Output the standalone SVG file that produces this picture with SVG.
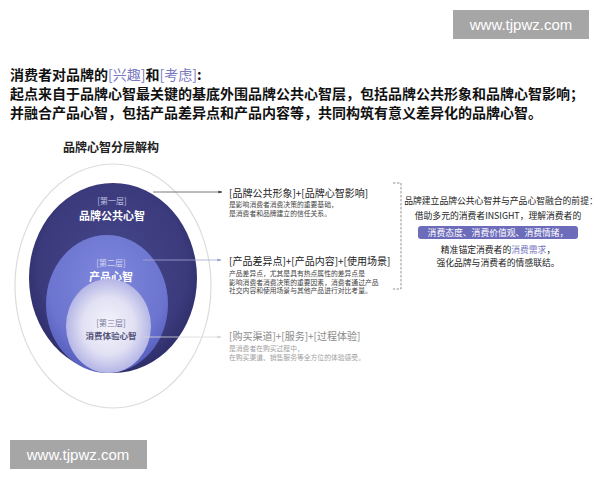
<svg xmlns="http://www.w3.org/2000/svg" width="600" height="480" viewBox="0 0 600 480">
<defs>
<radialGradient id="g1" cx="0.5" cy="0.45" r="0.55">
<stop offset="0" stop-color="#46468c"/>
<stop offset="0.8" stop-color="#3a3a7c"/>
<stop offset="1" stop-color="#2f2e6a"/>
</radialGradient>
<radialGradient id="g2" cx="0.5" cy="0.35" r="0.6">
<stop offset="0" stop-color="#8089dc"/>
<stop offset="0.8" stop-color="#6b74cf"/>
<stop offset="1" stop-color="#5c64c2"/>
</radialGradient>
<radialGradient id="g3" cx="0.5" cy="0.5" r="0.55">
<stop offset="0" stop-color="#f4f3fb"/>
<stop offset="0.55" stop-color="#e2e1f4"/>
<stop offset="1" stop-color="#a9abe2"/>
</radialGradient>
<marker id="ah1" viewBox="0 0 10 10" refX="9" refY="5" markerWidth="5" markerHeight="5" orient="auto">
<path d="M0,1 L10,5 L0,9 z" fill="#444"/>
</marker>
<marker id="ah2" viewBox="0 0 10 10" refX="9" refY="5" markerWidth="5" markerHeight="5" orient="auto">
<path d="M0,1 L10,5 L0,9 z" fill="#9a9acf"/>
</marker>
<marker id="ah3" viewBox="0 0 10 10" refX="9" refY="5" markerWidth="5" markerHeight="5" orient="auto">
<path d="M0,1 L10,5 L0,9 z" fill="#d4d4d8"/>
</marker>
</defs>
<style>
text{font-family:"Noto Sans CJK SC","Noto Sans",sans-serif}
.h{font-size:14px;font-weight:700;fill:#111}
.hp{fill:#7a78c0;font-weight:400}
.lay{font-size:8px;text-anchor:middle}
.t{font-size:10px;fill:#222}
.s{font-size:6.8px;fill:#444}
.r{font-size:8.8px;fill:#222;text-anchor:middle}
.wm{font-family:"Liberation Sans",Arial,sans-serif;font-size:15px;fill:#fff;text-anchor:middle}
</style>
<rect width="600" height="480" fill="#fff"/>

<g id="wm-top"><rect x="453" y="10" width="136" height="29" fill="#a6a6a6"/><text class="wm" x="521" y="30">www.tjpwz.com</text></g>
<g id="wm-bottom"><rect x="10" y="440" width="137" height="29" fill="#a6a6a6"/><text class="wm" x="78" y="460">www.tjpwz.com</text></g>

<g id="heading">
<text class="h" x="10" y="80">消费者对品牌的<tspan class="hp">[兴趣]</tspan>和<tspan class="hp">[考虑]</tspan>:</text>
<text class="h" x="10" y="99">起点来自于品牌心智最关键的基底外围品牌公共心智层，包括品牌公共形象和品牌心智影响；</text>
<text class="h" x="10" y="118">并融合产品心智，包括产品差异点和产品内容等，共同构筑有意义差异化的品牌心智。</text>
</g>

<text id="title" x="63" y="152" style="font-size:12px;font-weight:700;fill:#222">品牌心智分层解构</text>

<ellipse id="outer-ring" cx="113" cy="286" rx="98" ry="122" fill="none" stroke="#dcdcdc" stroke-width="1.2"/>

<g id="layer1">
<ellipse cx="113" cy="278" rx="84" ry="95" fill="url(#g1)"/>
<text class="lay" x="112" y="204" fill="#c4c4e6">[第一层]</text>
<text x="112" y="220" style="font-size:11px;font-weight:700;fill:#fff;text-anchor:middle">品牌公共心智</text>
</g>
<g id="layer2">
<ellipse cx="107" cy="304" rx="61" ry="69" fill="url(#g2)"/>
<text class="lay" x="111" y="266" fill="#d4d6f4">[第二层]</text>
<text x="111" y="281" style="font-size:11px;font-weight:700;fill:#fff;text-anchor:middle">产品心智</text>
</g>
<g id="layer3">
<ellipse cx="108.5" cy="326" rx="42.5" ry="47" fill="url(#g3)"/>
<text class="lay" x="111" y="326" fill="#77779a">[第三层]</text>
<text x="111" y="339" style="font-size:8.5px;font-weight:700;fill:#55557a;text-anchor:middle">消费体验心智</text>
</g>

<g id="connectors">
<line x1="153" y1="192" x2="222" y2="192" stroke="#555" stroke-width="0.8" marker-end="url(#ah1)"/>
<line x1="143" y1="260" x2="221" y2="260" stroke="#a4a4d4" stroke-width="0.8" marker-end="url(#ah2)"/>
<line x1="143" y1="337" x2="221" y2="337" stroke="#d8d8dc" stroke-width="0.8" marker-end="url(#ah3)"/>
<path d="M393,183 H401 V289 H393" fill="none" stroke="#777" stroke-width="0.8" stroke-dasharray="2.5,1.5"/>
</g>

<g id="block1">
<text class="t" x="229" y="196.5">[品牌公共形象]+[品牌心智影响]</text>
<text class="s" x="229" y="207">是影响消费者消费决策的重要基础，</text>
<text class="s" x="229" y="215.5">是消费者和品牌建立的信任关系。</text>
</g>
<g id="block2">
<text class="t" x="229" y="264.5">[产品差异点]+[产品内容]+[使用场景]</text>
<text class="s" x="229" y="276">产品差异点，尤其是具有热点属性的差异点是</text>
<text class="s" x="229" y="284.5">影响消费者消费决策的重要因素，消费者通过产品</text>
<text class="s" x="229" y="293">社交内容和使用场景与其他产品进行对比考量。</text>
</g>
<g id="block3">
<text class="t" x="229" y="339.5" style="fill:#8a8a8a">[购买渠道]+[服务]+[过程体验]</text>
<text class="s" x="229" y="350.5" style="fill:#a0a0a0">是消费者在购买过程中，</text>
<text class="s" x="229" y="359.5" style="fill:#a0a0a0">在购买渠道、销售服务等全方位的体验感受。</text>
</g>

<g id="premise">
<text class="r" x="501" y="204">品牌建立品牌公共心智并与产品心智融合的前提：</text>
<text class="r" x="498" y="219">借助多元的消费者INSIGHT，理解消费者的</text>
<rect x="418" y="226" width="160" height="13" rx="3" fill="#6c6cba"/>
<text class="r" x="498" y="236" style="fill:#fff">消费态度、消费价值观、消费情绪，</text>
<text class="r" x="498" y="253">精准锚定消费者的<tspan fill="#7a78c0">消费需求</tspan>，</text>
<text class="r" x="498" y="266">强化品牌与消费者的情感联结。</text>
</g>
</svg>
